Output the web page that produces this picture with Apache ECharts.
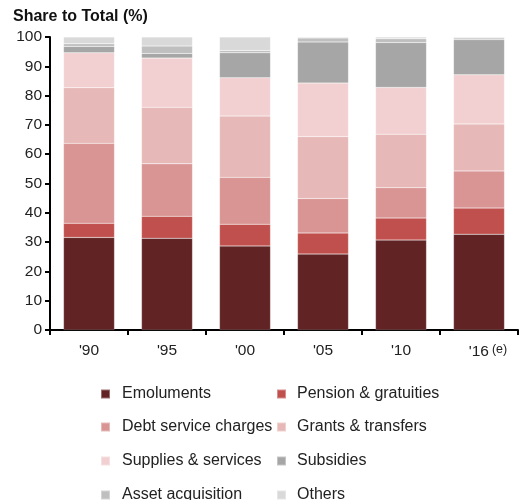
<!DOCTYPE html>
<html>
<head>
<meta charset="utf-8">
<script src="https://cdn.jsdelivr.net/npm/echarts@6/dist/echarts.min.js"></script>
<style>
  html, body { margin: 0; padding: 0; background: #fff; }
  #chart { width: 519px; height: 500px; }
</style>
</head>
<body>
<div id="chart"></div>
<script>
// 年份
const years = ["'90", "'95", "'00", "'05", "'10", "'16"]

// 各项占比 (%)
const emoluments = [31.6, 31.3, 28.7, 25.9, 30.7, 32.7]
const pension = [4.8, 7.5, 7.4, 7.2, 7.5, 8.9]
const debtService = [27.3, 17.9, 16.0, 11.8, 10.4, 12.7]
const grants = [19.0, 19.3, 20.9, 21.1, 18.2, 16.0]
const supplies = [11.9, 16.8, 13.1, 18.3, 16.0, 16.8]
const subsidies = [2.2, 1.6, 8.5, 14.0, 15.3, 12.0]
const assetAcq = [0.9, 2.5, 0.8, 1.4, 1.3, 0.6]
const others = [2.3, 3.1, 4.6, 0.3, 0.6, 0.3]

const seriesList = [
  { name: 'Emoluments', data: emoluments, color: '#622325' },
  { name: 'Pension & gratuities', data: pension, color: '#c0504d' },
  { name: 'Debt service charges', data: debtService, color: '#d99594' },
  { name: 'Grants & transfers', data: grants, color: '#e6b8b7' },
  { name: 'Supplies & services', data: supplies, color: '#f2d0d1' },
  { name: 'Subsidies', data: subsidies, color: '#a6a6a6' },
  { name: 'Asset acquisition', data: assetAcq, color: '#bfbfbf' },
  { name: 'Others', data: others, color: '#d9d9d9' }
]

const font = '"Liberation Sans", Arial, sans-serif'

// 图例：两列四行，每项单独定位
const legendRows = [386, 419, 453, 487]
const legends = seriesList.map((s, i) => ({
  orient: 'horizontal',
  icon: 'rect',
  itemWidth: 9,
  itemHeight: 9,
  padding: 0,
  left: i % 2 === 0 ? 100 : 276,
  top: legendRows[Math.floor(i / 2)],
  data: [s.name],
  textStyle: {
    fontFamily: font,
    fontSize: 16,
    color: '#222',
    lineHeight: 16,
    padding: [0, 0, 0, i % 2 === 0 ? 7 : 6]
  }
}))

const chart = echarts.init(document.getElementById('chart'))

chart.setOption({
  animation: false,
  title: {
    text: 'Share to Total (%)',
    left: 8,
    top: 4,
    textStyle: { fontFamily: font, fontSize: 16, fontWeight: 'bold', color: '#111' }
  },
  legend: legends,
  grid: { left: 50, right: 1, top: 37, bottom: 170 },
  xAxis: {
    type: 'category',
    data: years,
    axisLine: { lineStyle: { color: '#000', width: 2 } },
    axisTick: { show: true, length: 5, lineStyle: { color: '#000', width: 2 } },
    axisLabel: {
      interval: 0,
      margin: 13,
      fontFamily: font,
      fontSize: 15.5,
      color: '#222',
      formatter: v => v === "'16" ? '{p|}{a|' + v + '}{e|(e)}' : v,
      rich: {
        p: { width: 18 },
        a: { fontFamily: font, fontSize: 15.5, color: '#222' },
        e: { fontFamily: font, fontSize: 12.5, color: '#222', verticalAlign: 'bottom', padding: [0, 0, 5, 3] }
      }
    }
  },
  yAxis: {
    type: 'value',
    min: 0,
    max: 100,
    interval: 10,
    axisLine: { show: true, lineStyle: { color: '#000', width: 2 } },
    axisTick: { show: true, length: 5, lineStyle: { color: '#000', width: 2 } },
    splitLine: { show: false },
    axisLabel: { margin: 8, fontFamily: font, fontSize: 15.5, color: '#222' }
  },
  series: seriesList.map(s => ({
    name: s.name,
    type: 'bar',
    stack: 'total',
    barWidth: 51,
    data: s.data,
    itemStyle: { color: s.color, borderColor: 'rgba(255,255,255,0.35)', borderWidth: 0.5 }
  }))
})
</script>
</body>
</html>
